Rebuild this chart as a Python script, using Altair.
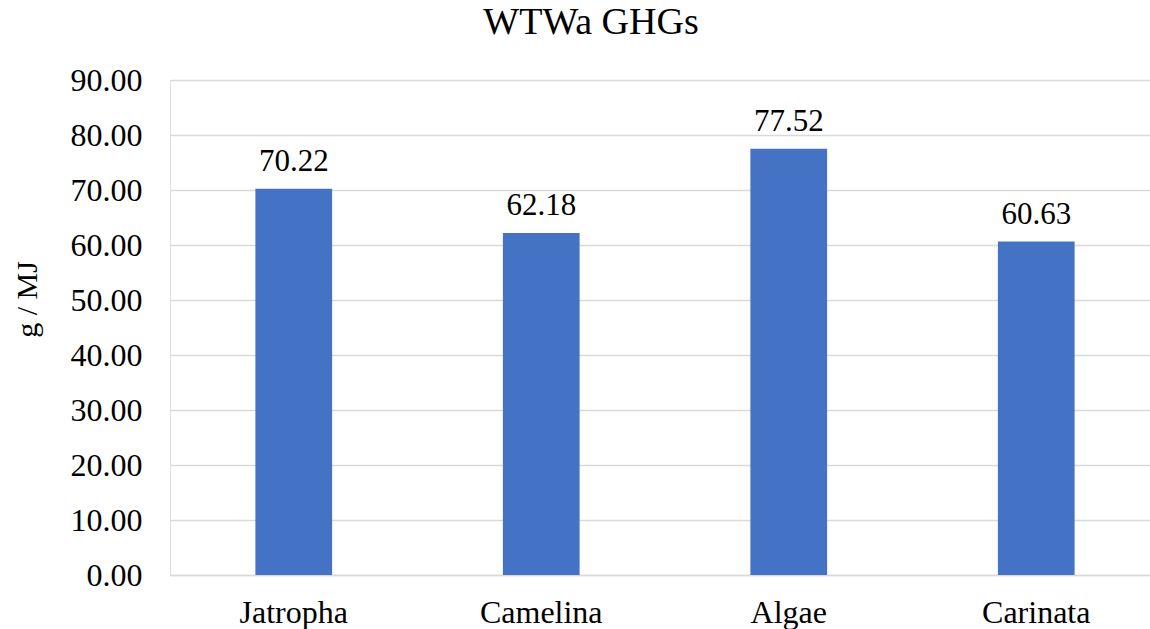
import altair as alt
import pandas as pd

# Well-to-wake GHG emissions per feedstock
feedstocks = ["Jatropha", "Camelina", "Algae", "Carinata"]
ghg_values = [70.22, 62.18, 77.52, 60.63]
y_ticks = [0, 10, 20, 30, 40, 50, 60, 70, 80, 90]

df = pd.DataFrame({"feedstock": feedstocks, "ghg": ghg_values})

FONT = "Liberation Serif"

x_enc = alt.X(
    "feedstock:N",
    sort=feedstocks,
    title=None,
    scale=alt.Scale(range=[0, 990], paddingInner=0.69, paddingOuter=0.345),
    axis=alt.Axis(
        labelAngle=0,
        labelFont=FONT,
        labelFontSize=32,
        labelColor="#000000",
        labelPadding=22,
        ticks=False,
        domainColor="#d9d9d9",
        domainWidth=1.5,
        grid=False,
    ),
)

y_enc = alt.Y(
    "ghg:Q",
    title="g / MJ",
    scale=alt.Scale(domain=[0, 90], nice=False),
    axis=alt.Axis(
        values=y_ticks,
        format=".2f",
        labelFont=FONT,
        labelFontSize=32,
        labelColor="#000000",
        labelPadding=28,
        ticks=False,
        domain=False,
        gridColor="#d9d9d9",
        gridWidth=1.5,
        titleFont=FONT,
        titleFontSize=30,
        titleFontWeight="normal",
        titleColor="#000000",
        titleAngle=270,
        titleAlign="center",
        titleBaseline="bottom",
        titleX=-128,
        titleY=219,
    ),
)

bars = alt.Chart(df).mark_bar(color="#4472C4").encode(x=x_enc, y=y_enc)

labels = alt.Chart(df).mark_text(
    font=FONT,
    fontSize=31,
    color="#000000",
    baseline="alphabetic",
    dy=-18,
).encode(
    x=alt.X("feedstock:N", sort=feedstocks),
    y=alt.Y("ghg:Q"),
    text=alt.Text("ghg:Q", format=".2f"),
)

chart = (
    alt.layer(bars, labels)
    .properties(
        width=980,
        height=495,
        autosize=alt.AutoSizeParams(type="none"),
        padding={"left": 170, "top": 80, "right": 0, "bottom": 54},
        title=alt.TitleParams(
            "WTWa GHGs",
            font=FONT,
            fontSize=38,
            fontWeight="normal",
            color="#000000",
            anchor="middle",
            dx=-69,
            offset=22,
        ),
    )
    .configure_view(stroke=None)
    .configure(background="white")
)

chart.save("out.html", embed_options={"renderer": "svg", "actions": False})
